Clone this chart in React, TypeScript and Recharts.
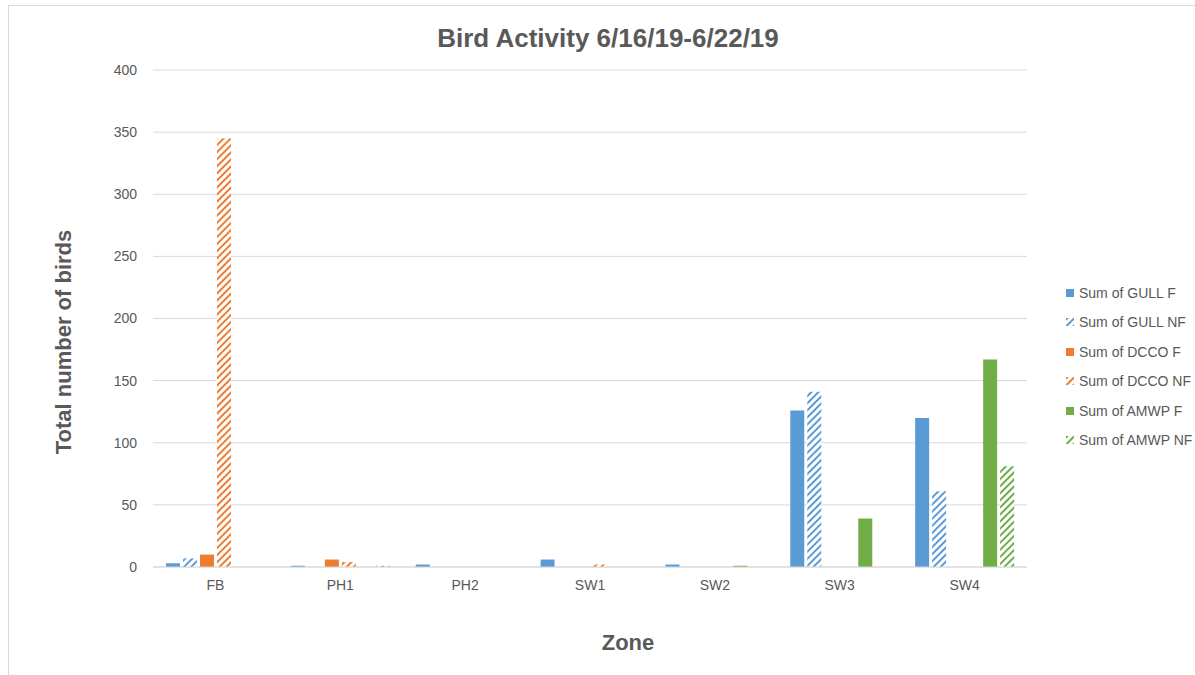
import React from 'react';
import { BarChart, Bar, XAxis, YAxis, CartesianGrid, Legend } from 'recharts';

const zones = ['FB', 'PH1', 'PH2', 'SW1', 'SW2', 'SW3', 'SW4'];
const gullF = [3, 1, 2, 6, 2, 126, 120];
const gullNF = [7, 0, 0, 0, 0, 141, 61];
const dccoF = [10, 6, 0, 0, 0, 0, 0];
const dccoNF = [345, 4, 0, 2, 0, 0, 0];
const amwpF = [0, 0, 0, 0, 1, 39, 167];
const amwpNF = [0, 1, 0, 0, 0, 0, 81];
const yTicks = [0, 50, 100, 150, 200, 250, 300, 350, 400];

const seriesKeys = ['gullF', 'gullNF', 'dccoF', 'dccoNF', 'amwpF', 'amwpNF'];
const seriesNames = ['Sum of GULL F', 'Sum of GULL NF', 'Sum of DCCO F', 'Sum of DCCO NF', 'Sum of AMWP F', 'Sum of AMWP NF'];
const seriesColors = ['#5B9BD5', '#5B9BD5', '#ED7D31', '#ED7D31', '#70AD47', '#70AD47'];
const seriesHatched = [false, true, false, true, false, true];

const data = zones.map((zone, i) => ({
  zone,
  gullF: gullF[i],
  gullNF: gullNF[i],
  dccoF: dccoF[i],
  dccoNF: dccoNF[i],
  amwpF: amwpF[i],
  amwpNF: amwpNF[i],
}));

const FONT = "'Liberation Sans', Arial, sans-serif";
const TEXT = '#595959';

const fillFor = (i: number) => (seriesHatched[i] ? `url(#hatch${i})` : seriesColors[i]);

const renderLegend = (props: any) => {
  const payload = ([...(props.payload || [])] as any[]).sort(
    (a, b) => seriesKeys.indexOf(a.dataKey) - seriesKeys.indexOf(b.dataKey)
  );
  return (
    <div style={{ fontFamily: FONT }}>
      {payload.map((entry: any, idx: number) => {
        const i = seriesKeys.indexOf(entry.dataKey);
        return (
          <div key={idx} style={{ display: 'flex', alignItems: 'center', height: 29.5 }}>
            <svg width={8} height={8} style={{ marginRight: 5 }}>
              <rect x={0} y={0} width={8} height={8} fill={fillFor(i)} />
            </svg>
            <span style={{ fontSize: 14, color: TEXT, whiteSpace: 'nowrap' }}>{seriesNames[i]}</span>
          </div>
        );
      })}
    </div>
  );
};

export default function App() {
  return (
    <div style={{ position: 'absolute', left: 0, top: 0, width: 1195, height: 675, background: '#fff', overflow: 'hidden', fontFamily: FONT }}>
      <div style={{ position: 'absolute', left: 8, top: 5, width: 1300, height: 800, border: '1px solid #d9d9d9', boxSizing: 'border-box' }} />
      <svg width={0} height={0} style={{ position: 'absolute' }}>
        <defs>
          {seriesColors.map((c, i) => (
            <pattern key={i} id={`hatch${i}`} patternUnits="userSpaceOnUse" width={5} height={5} patternTransform="rotate(45)">
              <rect x={0} y={0} width={5} height={5} fill="#fff" />
              <rect x={0} y={0} width={2} height={5} fill={c} />
            </pattern>
          ))}
        </defs>
      </svg>
      <BarChart
        width={1195}
        height={675}
        data={data}
        margin={{ top: 70, right: 168, bottom: 78, left: 93 }}
        barSize={14}
        barGap={3}
      >
        <CartesianGrid vertical={false} stroke="#d9d9d9" />
        <XAxis
          dataKey="zone"
          height={30}
          tickLine={false}
          axisLine={{ stroke: '#d9d9d9' }}
          tick={{ fill: TEXT, fontSize: 14, fontFamily: FONT }}
          tickMargin={7}
          interval={0}
        />
        <YAxis
          width={60}
          domain={[0, 400]}
          ticks={yTicks}
          axisLine={false}
          tickLine={false}
          tickMargin={10}
          tick={{ fill: TEXT, fontSize: 14, fontFamily: FONT }}
        />
        {seriesKeys.map((k, i) => (
          <Bar key={k} dataKey={k} name={seriesNames[i]} fill={fillFor(i)} isAnimationActive={false} />
        ))}
        <Legend
          layout="vertical"
          align="center"
          verticalAlign="middle"
          content={renderLegend}
          wrapperStyle={{ position: 'absolute', left: 1066, top: 278, width: 128 }}
        />
      </BarChart>
      <div style={{ position: 'absolute', left: 308, top: 23, width: 600, textAlign: 'center', fontSize: 26, lineHeight: '30px', fontWeight: 'bold', color: TEXT }}>
        Bird Activity 6/16/19-6/22/19
      </div>
      <div style={{ position: 'absolute', left: 478, top: 630, width: 300, textAlign: 'center', fontSize: 22, lineHeight: '26px', fontWeight: 'bold', color: TEXT }}>
        Zone
      </div>
      <div style={{ position: 'absolute', left: 64 - 150, top: 342 - 13, width: 300, height: 26, textAlign: 'center', fontSize: 22, lineHeight: '26px', fontWeight: 'bold', color: TEXT, transform: 'rotate(-90deg)' }}>
        Total number of birds
      </div>
    </div>
  );
}
